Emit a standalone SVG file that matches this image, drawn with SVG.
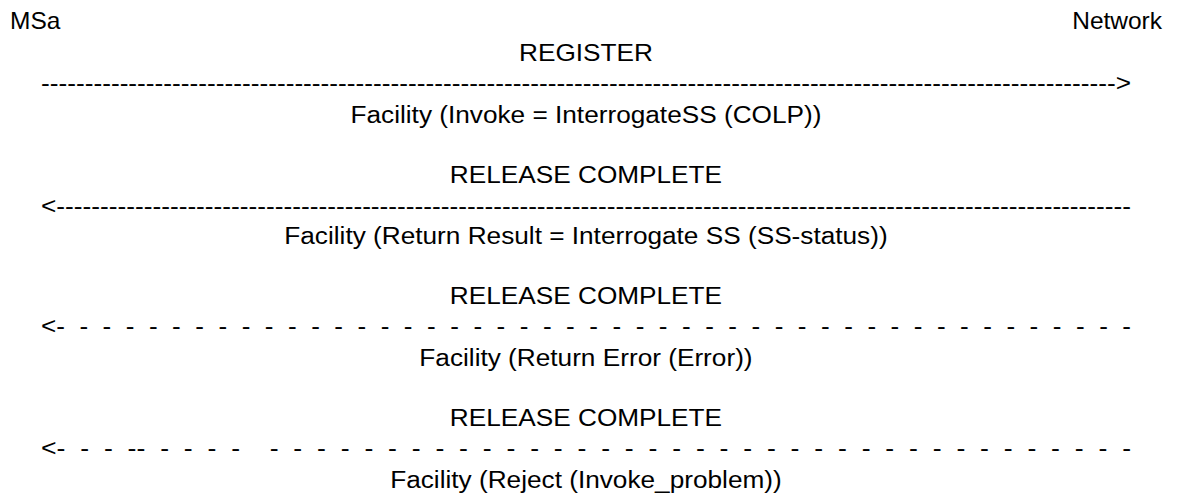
<svg xmlns="http://www.w3.org/2000/svg" width="1178" height="495" viewBox="0 0 1178 495">
  <style>
    text { font-family: "Liberation Sans", Arial, sans-serif; fill: #000; }
    .lbl { font-size: 24.6px; text-anchor: middle; }
    .ent { font-size: 23px; }
    .ln { font-size: 24.6px; white-space: pre; }
  </style>
  <rect width="1178" height="495" fill="#fff"/>
  <g transform="scale(1.065,1)">
    <g id="node-msa">
      <text class="ent" x="9.4" y="29.5">MSa</text>
    </g>
    <g id="node-network">
      <text class="ent" x="1091.1" y="29.5" text-anchor="end">Network</text>
    </g>
    <g id="connectors">
      <g id="msg-register">
        <text class="lbl" x="550.2" y="60.7">REGISTER</text>
        <text class="ln" x="38.5" y="91" textLength="1023.5" lengthAdjust="spacingAndGlyphs">---------------------------------------------------------------------------------------------------------------------------&gt;</text>
        <text class="lbl" x="550.2" y="122.7">Facility (Invoke = InterrogateSS (COLP))</text>
      </g>
      <g id="msg-release-result">
        <text class="lbl" x="550.2" y="182.7">RELEASE COMPLETE</text>
        <text class="ln" x="38.5" y="213.6" textLength="1023.5" lengthAdjust="spacingAndGlyphs">&lt;---------------------------------------------------------------------------------------------------------------------------</text>
        <text class="lbl" x="550.2" y="244">Facility (Return Result = Interrogate SS (SS-status))</text>
      </g>
      <g id="msg-release-error">
        <text class="lbl" x="550.2" y="304.4">RELEASE COMPLETE</text>
        <text class="ln" x="38.5" y="334.3" xml:space="preserve" textLength="1023.5" lengthAdjust="spacingAndGlyphs">&lt;-  -  -  -  -  -  -  -  -  -  -  -  -  -  -  -  -  -  -  -  -  -  -  -  -  -  -  -  -  -  -  -  -  -  -  -  -  -  -  -  -  -  -  -  -  -  -</text>
        <text class="lbl" x="550.2" y="365.7">Facility (Return Error (Error))</text>
      </g>
      <g id="msg-release-reject">
        <text class="lbl" x="550.2" y="426">RELEASE COMPLETE</text>
        <text class="ln" x="38.5" y="456" xml:space="preserve" textLength="1023.5" lengthAdjust="spacingAndGlyphs">&lt;-  -  -  --  -  -  -  -    -  -  -  -  -  -  -  -  -  -  -  -  -  -  -  -  -  -  -  -  -  -  -  -  -  -  -  -  -  -  -  -  -  -  -  -  -</text>
        <text class="lbl" x="550.2" y="487.7">Facility (Reject (Invoke_problem))</text>
      </g>
    </g>
  </g>
</svg>
